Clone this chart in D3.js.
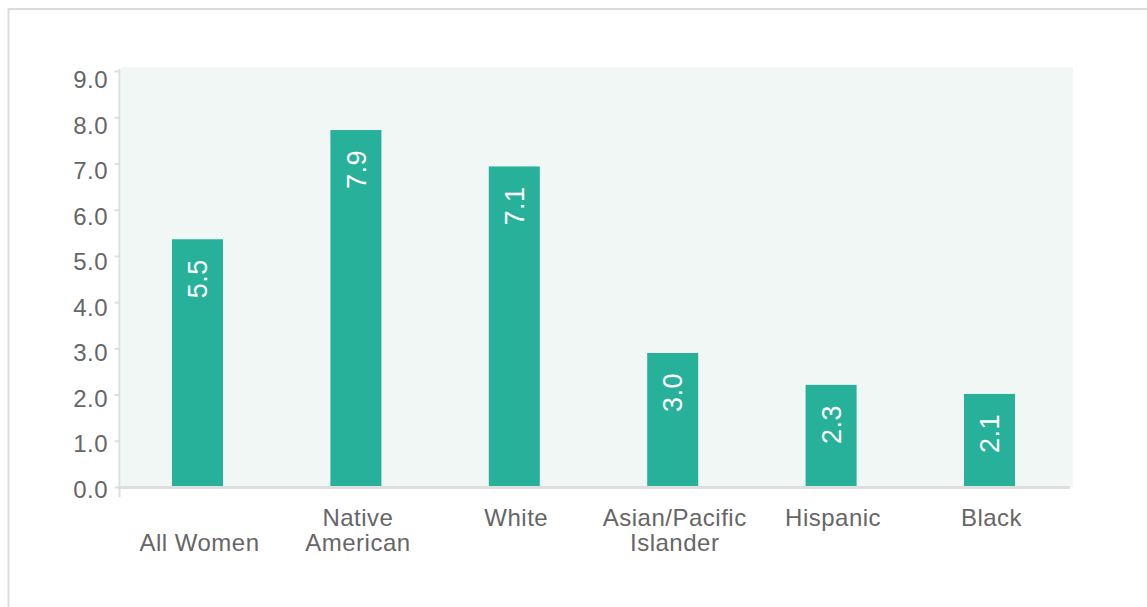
<!DOCTYPE html>
<html>
<head>
<meta charset="utf-8">
<script src="https://cdn.jsdelivr.net/npm/d3@7"></script>
<style>
  html, body { margin: 0; padding: 0; background: #ffffff; }
  svg { display: block; }
</style>
</head>
<body>
<svg id="chart" width="1147" height="607"></svg>
<script>
// ---- data ----
const categories = ["All Women", "Native American", "White", "Asian/Pacific Islander", "Hispanic", "Black"];
const categoryLines = [["", "All Women"], ["Native", "American"], ["White"], ["Asian/Pacific", "Islander"], ["Hispanic"], ["Black"]];
const values = [5.5, 7.9, 7.1, 3.0, 2.3, 2.1];
const yTicks = [0, 1, 2, 3, 4, 5, 6, 7, 8, 9];

// ---- layout ----
const W = 1147, H = 607;
const svg = d3.select("#chart");
const fontFamily = "'Liberation Sans', Arial, Helvetica, sans-serif";
const barColor = "#27b19a";
const plotBg = "#f1f7f5";
const axisColor = "#dedede";
const textColor = "#666666";

const x = d3.scaleBand().domain(categories).range([118.3, 1068.7])
  .paddingInner(0.678).paddingOuter(0.339);
const y = d3.scaleLinear().domain([0, 9]).range([489.5, 80]);       // values & labels
const yTickMarks = d3.scaleLinear().domain([0, 9]).range([487, 71]); // tick marks
const baseY = 488;

// outer frame
svg.append("rect")
  .attr("x", 8.5).attr("y", 9).attr("width", W + 20).attr("height", H + 20)
  .attr("fill", "none").attr("stroke", "#dcdcdc").attr("stroke-width", 2);

// plot background
svg.append("rect")
  .attr("x", 121).attr("y", 67).attr("width", 1073 - 121).attr("height", 487 - 67)
  .attr("fill", plotBg);

// bars
svg.append("g").selectAll("rect")
  .data(values)
  .join("rect")
  .attr("x", (d, i) => x(categories[i]))
  .attr("y", d => y(d))
  .attr("width", x.bandwidth())
  .attr("height", d => baseY - y(d))
  .attr("fill", barColor);

// bar value labels (rotated)
svg.append("g").selectAll("text")
  .data(values)
  .join("text")
  .attr("transform", (d, i) => `translate(${x(categories[i]) + x.bandwidth() / 2},${y(d) + 20}) rotate(-90)`)
  .attr("text-anchor", "end")
  .attr("dy", "0.36em")
  .attr("fill", "#ffffff")
  .style("font-family", fontFamily)
  .style("font-size", "27px")
  .style("letter-spacing", "0.5px")
  .text(d => d.toFixed(1));

// y axis
const yAxis = d3.axisLeft(yTickMarks)
  .tickValues(yTicks)
  .tickFormat(d3.format(".1f"))
  .tickSize(5)
  .tickPadding(6.5);
const gy = svg.append("g").attr("transform", "translate(119.5,0)").call(yAxis);
gy.select(".domain").remove();
gy.selectAll(".tick line").attr("stroke", axisColor).attr("stroke-width", 2);
gy.selectAll(".tick text")
  .attr("y", d => y(d) - yTickMarks(d))
  .attr("fill", textColor)
  .style("font-family", fontFamily)
  .style("font-size", "24px")
  .style("letter-spacing", "0.5px");

svg.append("line")
  .attr("x1", 119.5).attr("x2", 119.5).attr("y1", 69).attr("y2", 497)
  .attr("stroke", axisColor).attr("stroke-width", 2);

// x axis line
svg.append("line")
  .attr("x1", 118).attr("x2", 1070).attr("y1", 487.5).attr("y2", 487.5)
  .attr("stroke", axisColor).attr("stroke-width", 3);

// category labels
const lineBaselines = [526, 551];
const cat = svg.append("g").selectAll("text")
  .data(categories)
  .join("text")
  .attr("text-anchor", "middle")
  .attr("fill", textColor)
  .style("font-family", fontFamily)
  .style("font-size", "24px")
  .style("letter-spacing", "0.5px");
cat.each(function (c, i) {
  const t = d3.select(this);
  categoryLines[i].forEach((ln, j) => {
    if (ln === "") return;
    t.append("tspan")
      .attr("x", x(c) + x.bandwidth() / 2 + 2)
      .attr("y", lineBaselines[j])
      .text(ln);
  });
});
</script>
</body>
</html>
